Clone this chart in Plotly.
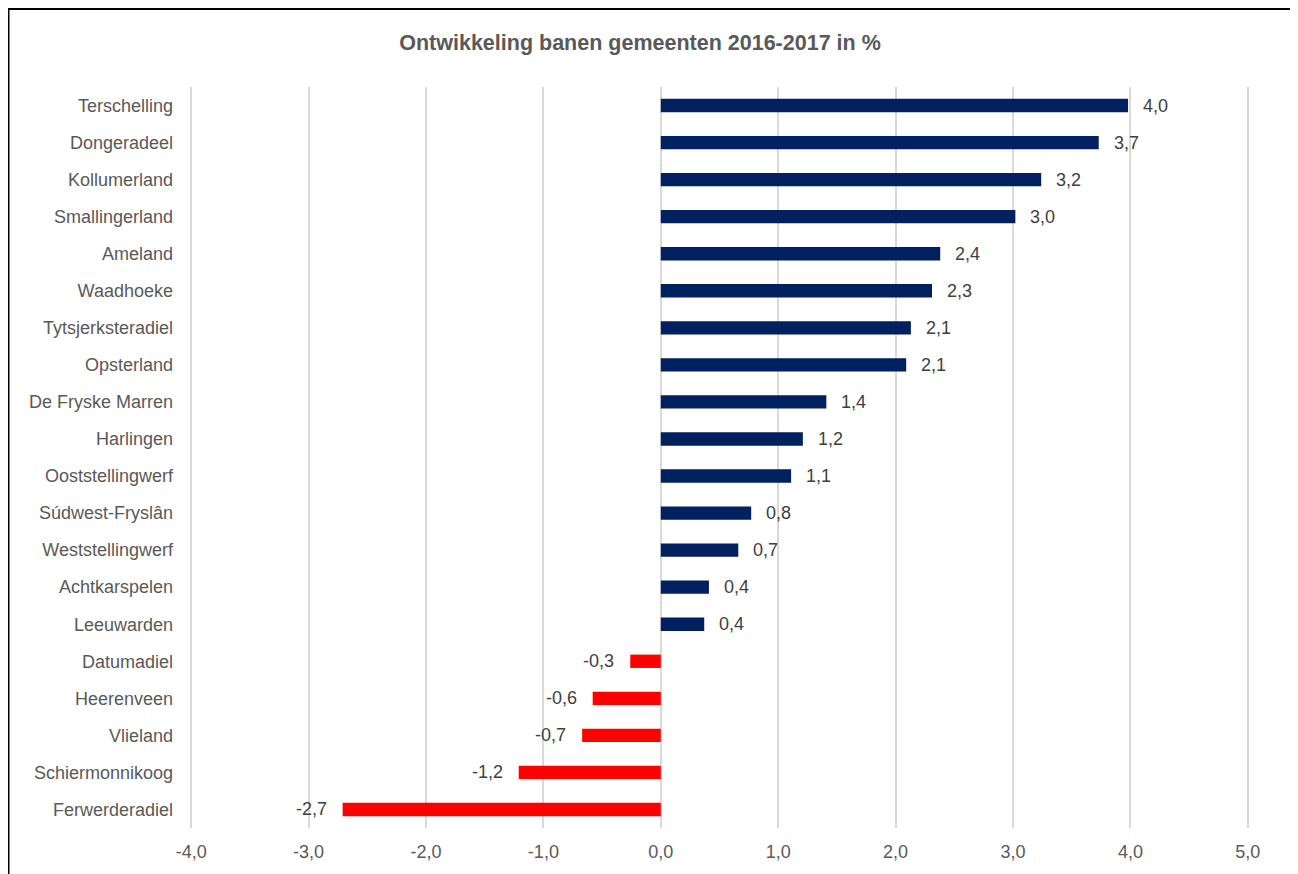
import plotly.graph_objects as go

gemeenten = ["Terschelling", "Dongeradeel", "Kollumerland", "Smallingerland", "Ameland",
             "Waadhoeke", "Tytsjerksteradiel", "Opsterland", "De Fryske Marren", "Harlingen",
             "Ooststellingwerf", "Súdwest-Fryslân", "Weststellingwerf", "Achtkarspelen",
             "Leeuwarden", "Datumadiel", "Heerenveen", "Vlieland", "Schiermonnikoog",
             "Ferwerderadiel"]
waarden = [3.98, 3.73, 3.24, 3.02, 2.38, 2.31, 2.13, 2.09, 1.41, 1.21,
           1.11, 0.77, 0.66, 0.41, 0.37, -0.26, -0.58, -0.67, -1.21, -2.71]
x_ticks = [-4, -3, -2, -1, 0, 1, 2, 3, 4, 5]

def fmt(v):
    return f"{v:.1f}".replace(".", ",")

colors = ["#002060" if v >= 0 else "#FF0000" for v in waarden]
FONT = "Liberation Sans, Arial, sans-serif"

fig = go.Figure()
fig.add_trace(go.Bar(
    y=gemeenten, x=waarden, orientation="h",
    marker=dict(color=colors, line=dict(width=0)),
    width=0.36, hoverinfo="x+y",
))

annotations = []
for g, v in zip(gemeenten, waarden):
    annotations.append(dict(
        x=v, y=g, xref="x", yref="y", text=fmt(v), showarrow=False,
        xanchor="left" if v >= 0 else "right",
        xshift=13 if v >= 0 else -14,
        font=dict(family=FONT, size=18, color="#404040"),
    ))

# page adds 8px offset; figure is placed so that the plot area matches the reference
W, H = 1290, 866
L, R, T, B = 182, 49, 79, 46
PW, PH = W - L - R, H - T - B

fig.update_layout(
    width=W, height=H,
    paper_bgcolor="white", plot_bgcolor="white",
    margin=dict(l=L, r=R, t=T, b=B),
    title=dict(text="<b>Ontwikkeling banen gemeenten 2016-2017 in %</b>",
               x=(640 - 8 - L) / PW, xref="paper", xanchor="center",
               y=1 - 34 / H, yanchor="middle",
               font=dict(family=FONT, size=21.5, color="#595959")),
    font=dict(family=FONT, size=18, color="#595959"),
    showlegend=False,
    annotations=annotations,
    shapes=[dict(type="rect", xref="paper", yref="paper",
                 x0=-(L - 0.5) / PW, x1=1 + 42 / PW, y0=-0.2, y1=1 + (T - 1) / PH,
                 line=dict(color="black", width=2), fillcolor="rgba(0,0,0,0)", layer="below")],
)
fig.update_xaxes(
    range=[-4.01, 5.01], tickvals=x_ticks, ticktext=[fmt(t) for t in x_ticks],
    showgrid=True, gridcolor="#D9D9D9", gridwidth=2, zeroline=False,
    showline=False, ticks="", ticklabelstandoff=11,
    tickfont=dict(size=18, color="#595959"),
)
fig.update_yaxes(
    autorange="reversed", showgrid=False, zeroline=False, showline=False,
    ticks="", ticklabelstandoff=16,
    tickfont=dict(size=18, color="#595959"),
)
fig.write_html("out.html")
